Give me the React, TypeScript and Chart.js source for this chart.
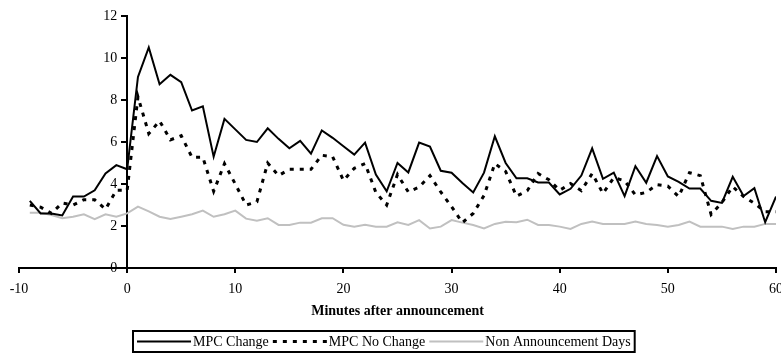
import React, { useEffect, useRef } from "react";
import { Chart, registerables } from "chart.js";

Chart.register(...registerables);

// Minutes relative to the MPC announcement
const minutes = [
  -9, -8, -7, -6, -5, -4, -3, -2, -1, 0,
  1, 2, 3, 4, 5, 6, 7, 8, 9, 10,
  11, 12, 13, 14, 15, 16, 17, 18, 19, 20,
  21, 22, 23, 24, 25, 26, 27, 28, 29, 30,
  31, 32, 33, 34, 35, 36, 37, 38, 39, 40,
  41, 42, 43, 44, 45, 46, 47, 48, 49, 50,
  51, 52, 53, 54, 55, 56, 57, 58, 59, 60,
];

const mpcChange = [
  3.2, 2.6, 2.6, 2.5, 3.4, 3.4, 3.7, 4.5, 4.9, 4.7,
  9.1, 10.5, 8.75, 9.2, 8.85, 7.5, 7.7, 5.3, 7.1, 6.6,
  6.1, 6.0, 6.65, 6.15, 5.7, 6.05, 5.45, 6.55, 6.2, 5.8,
  5.4, 5.97, 4.45, 3.65, 5.0, 4.55, 5.97, 5.78, 4.63, 4.54,
  4.05, 3.6, 4.54, 6.27, 5.0, 4.27, 4.27, 4.07, 4.07, 3.5,
  3.77, 4.4, 5.7, 4.25, 4.54, 3.42, 4.85, 4.06, 5.33, 4.36,
  4.1, 3.78, 3.78, 3.2, 3.1, 4.34, 3.43, 3.8, 2.18, 3.4,
];

const mpcNoChange = [
  3.0, 2.9, 2.6, 3.1, 3.0, 3.25, 3.25, 2.8, 3.7, 3.7,
  8.15, 6.4, 7.0, 6.1, 6.3, 5.27, 5.27, 3.65, 4.97, 4.0,
  3.0, 3.15, 5.0, 4.4, 4.7, 4.7, 4.7, 5.37, 5.3, 4.17,
  4.75, 4.97, 3.6, 3.0, 4.45, 3.62, 3.85, 4.4, 3.62, 2.92,
  2.16, 2.6, 3.45, 4.97, 4.6, 3.42, 3.68, 4.5, 4.2, 3.7,
  4.02, 3.68, 4.5, 3.55, 4.3, 4.15, 3.48, 3.6, 3.97, 3.9,
  3.4, 4.54, 4.4, 2.55, 3.12, 3.87, 3.4, 3.08, 2.68, 2.68,
];

const nonAnnouncement = [
  2.63, 2.63, 2.52, 2.37, 2.44, 2.56, 2.33, 2.56, 2.44, 2.6,
  2.92, 2.7, 2.44, 2.33, 2.44, 2.56, 2.73, 2.44, 2.56, 2.73,
  2.35, 2.25, 2.37, 2.05, 2.05, 2.16, 2.16, 2.37, 2.37, 2.06,
  1.97, 2.06, 1.97, 1.97, 2.18, 2.05, 2.28, 1.88, 1.97, 2.28,
  2.16, 2.05, 1.88, 2.1, 2.2, 2.18, 2.3, 2.05, 2.05, 1.97,
  1.86, 2.1, 2.21, 2.1, 2.1, 2.1, 2.21, 2.1, 2.05, 1.97,
  2.05, 2.21, 1.97, 1.97, 1.97, 1.86, 1.97, 1.97, 2.1, 2.1,
];

const seriesLabels = ["MPC Change", "MPC No Change", "Non Announcement Days"];
const xRange = [-10, 60];
const yRange = [0, 12];
const xStep = 10;
const yStep = 2;
const xTitle = "Minutes after announcement";

const FONT = "'Liberation Serif', 'Times New Roman', serif";

const toPoints = (values: number[]) => minutes.map((m, i) => ({ x: m, y: values[i] }));

// The value axis sits at x = 0; its labels are set to the left of its tick marks
const crossingAxisLabels = {
  id: "crossingAxisLabels",
  afterDraw(chart: any) {
    const ctx: CanvasRenderingContext2D = chart.ctx;
    const yScale = chart.scales.y;
    const x0 = chart.scales.x.getPixelForValue(0);
    ctx.save();
    ctx.font = `14px ${FONT}`;
    ctx.textAlign = "right";
    ctx.textBaseline = "middle";
    ctx.fillStyle = "#000";
    yScale.ticks.forEach((t: any) => {
      ctx.fillText(String(t.value), x0 - 10, yScale.getPixelForValue(t.value));
    });
    ctx.restore();
  },
};

// Draws the framed legend row beneath the axis title
const boxedLegend = {
  id: "boxedLegend",
  afterDraw(chart: any, _args: any, opts: any) {
    const ctx: CanvasRenderingContext2D = chart.ctx;
    ctx.save();
    ctx.font = `14px ${FONT}`;
    ctx.textBaseline = "middle";
    ctx.textAlign = "left";
    const cy = (opts.top + opts.bottom) / 2;
    let x = opts.left + 4;
    chart.data.datasets.forEach((ds: any) => {
      ctx.beginPath();
      ctx.setLineDash(ds.borderDash || []);
      ctx.lineWidth = ds.borderWidth;
      ctx.strokeStyle = ds.borderColor;
      ctx.moveTo(x, cy);
      ctx.lineTo(x + opts.sample, cy);
      ctx.stroke();
      ctx.setLineDash([]);
      x += opts.sample + 2;
      ctx.fillStyle = "#000";
      ctx.fillText(ds.label, x, cy + 0.5);
      x += ctx.measureText(ds.label).width + 4;
    });
    ctx.lineWidth = 2;
    ctx.strokeStyle = "#000";
    ctx.strokeRect(opts.left, opts.top, x - opts.left, opts.bottom - opts.top);
    ctx.restore();
  },
};

export default function App() {
  const canvasRef = useRef<HTMLCanvasElement | null>(null);

  useEffect(() => {
    if (!canvasRef.current) return;
    const chart = new Chart(canvasRef.current, {
      type: "line",
      data: {
        datasets: [
          {
            label: seriesLabels[0],
            data: toPoints(mpcChange),
            borderColor: "#000000",
            borderWidth: 2,
            pointRadius: 0,
            tension: 0,
          },
          {
            label: seriesLabels[1],
            data: toPoints(mpcNoChange),
            borderColor: "#000000",
            borderWidth: 3,
            borderDash: [4, 6],
            pointRadius: 0,
            tension: 0,
          },
          {
            label: seriesLabels[2],
            data: toPoints(nonAnnouncement),
            borderColor: "#c0c0c0",
            borderWidth: 2,
            pointRadius: 0,
            tension: 0,
          },
        ],
      },
      options: {
        responsive: false,
        animation: false,
        devicePixelRatio: 1,
        layout: { padding: { left: 19, right: 5, top: 16, bottom: 0 } },
        plugins: {
          legend: { display: false },
          tooltip: { enabled: false },
          boxedLegend: { left: 133, top: 331, bottom: 352, sample: 54 },
        } as any,
        scales: {
          x: {
            type: "linear",
            min: xRange[0],
            max: xRange[1],
            afterFit: (scale: any) => {
              scale.height = 93;
              scale.paddingLeft = 0;
              scale.paddingRight = 0;
            },
            ticks: {
              stepSize: xStep,
              color: "#000",
              padding: 8,
              maxRotation: 0,
              font: { family: FONT, size: 14 },
            },
            grid: {
              drawOnChartArea: false,
              drawTicks: true,
              tickLength: 5,
              color: "#000",
              lineWidth: 2,
            },
            border: { display: true, color: "#000", width: 2 },
            title: {
              display: true,
              text: xTitle,
              color: "#000",
              font: { family: FONT, size: 14, weight: "bold" },
              padding: { top: 0, bottom: 41.6 },
            },
          },
          y: {
            type: "linear",
            min: yRange[0],
            max: yRange[1],
            position: { x: 0 } as any,
            ticks: {
              stepSize: yStep,
              display: false,
            },
            grid: {
              drawOnChartArea: false,
              drawTicks: true,
              tickLength: 5,
              color: "#000",
              lineWidth: 2,
            },
            border: { display: true, color: "#000", width: 2 },
          },
        },
      },
      plugins: [crossingAxisLabels, boxedLegend],
    } as any);
    return () => chart.destroy();
  }, []);

  return (
    <div style={{ position: "fixed", left: 0, top: 0, width: 781, height: 361, background: "#fff" }}>
      <canvas ref={canvasRef} width={781} height={361} style={{ display: "block" }} />
    </div>
  );
}
